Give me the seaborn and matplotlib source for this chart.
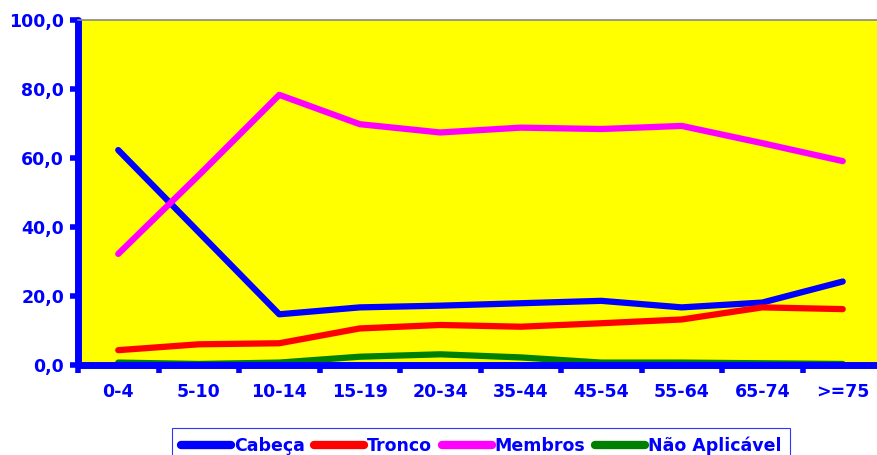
import pandas as pd
import seaborn as sns
import matplotlib.pyplot as plt
from matplotlib.ticker import FixedLocator, FuncFormatter

# faixas etárias e percentuais por região do corpo
faixas = ["0-4", "5-10", "10-14", "15-19", "20-34", "35-44", "45-54", "55-64", "65-74", ">=75"]
cabeca = [62.3, 38.5, 14.7, 16.7, 17.2, 17.9, 18.6, 16.7, 18.1, 24.2]
tronco = [4.3, 6.0, 6.3, 10.6, 11.6, 11.1, 12.1, 13.2, 16.7, 16.2]
membros = [32.2, 55.0, 78.3, 69.8, 67.4, 68.8, 68.4, 69.3, 64.3, 59.1]
nao_aplicavel = [0.7, 0.3, 0.7, 2.4, 3.1, 2.2, 0.7, 0.7, 0.5, 0.3]

series = {"Cabeça": cabeca, "Tronco": tronco, "Membros": membros, "Não Aplicável": nao_aplicavel}
cores = {"Cabeça": "#0000FF", "Tronco": "#FF0000", "Membros": "#FF00FF", "Não Aplicável": "#008000"}

df = pd.concat(
    [pd.DataFrame({"faixa": faixas, "valor": v, "regiao": k}) for k, v in series.items()],
    ignore_index=True,
)

sns.set_style("white")
plt.rcParams["font.family"] = ["DejaVu Sans"]
azul = "#0000FF"

fig = plt.figure(figsize=(8.77, 4.55), dpi=100)
ax = fig.add_axes([78 / 877, 1 - 365 / 455, (883 - 78) / 877, 345 / 455])
ax.set_facecolor("#FFFF00")

sns.lineplot(data=df, x="faixa", y="valor", hue="regiao", palette=cores, sort=False,
             linewidth=4.5, ax=ax, legend=False)
for ln in ax.lines:
    ln.set_solid_capstyle("round")
    ln.set_solid_joinstyle("round")

ax.set_xlim(-0.5, 9.5)
ax.set_ylim(0, 100)
ax.set_xlabel("")
ax.set_ylabel("")

# eixos
for lado in ["left", "bottom"]:
    ax.spines[lado].set_color(azul)
    ax.spines[lado].set_linewidth(5)
    ax.spines[lado].set_capstyle("round")
ax.spines["top"].set_color("#888888")
ax.spines["top"].set_linewidth(1.2)
ax.spines["right"].set_visible(False)

ax.set_yticks([0, 20, 40, 60, 80, 100])
ax.yaxis.set_major_formatter(FuncFormatter(lambda v, p: f"{v:.1f}".replace(".", ",")))
ax.tick_params(axis="y", direction="out", length=6, width=4, color=azul, pad=4,
               labelsize=12.5, labelcolor=azul, left=True)
ax.set_xticks(range(len(faixas)))
ax.set_xticklabels(faixas)
ax.tick_params(axis="x", which="major", length=0, pad=13, labelsize=12.5, labelcolor=azul)
ax.xaxis.set_minor_locator(FixedLocator([i - 0.5 for i in range(len(faixas))]))
ax.tick_params(axis="x", which="minor", direction="out", length=6, width=4, color=azul, bottom=True)
for lbl in ax.get_xticklabels() + ax.get_yticklabels():
    lbl.set_fontweight("bold")

# legenda
handles = [plt.Line2D([], [], color=cores[k], lw=6, solid_capstyle="round") for k in series]
leg = fig.legend(handles, list(series.keys()), loc="upper left",
                 bbox_to_anchor=(172 / 877, 1 - 428 / 455), ncol=4, frameon=True,
                 fancybox=False, borderpad=0.5, handlelength=2.9, handletextpad=0.15,
                 columnspacing=0.55, borderaxespad=0,
                 prop={"size": 12.5, "weight": "bold"})
leg.get_frame().set_edgecolor(azul)
leg.get_frame().set_linewidth(0.8)
for t in leg.get_texts():
    t.set_color(azul)

fig.savefig("out.png", dpi=100)
